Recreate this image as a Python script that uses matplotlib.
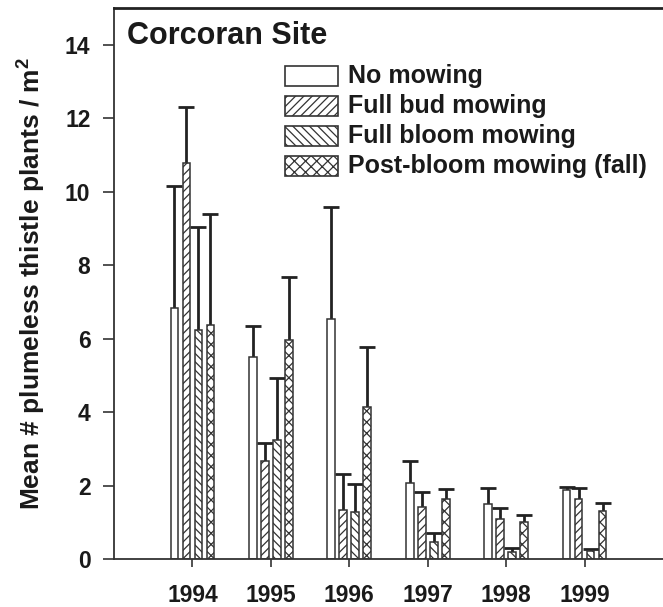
import matplotlib
matplotlib.use("Agg")
import matplotlib.pyplot as plt
from matplotlib.patches import Rectangle
import numpy as np

plt.rcParams['font.family'] = ['Liberation Sans', 'DejaVu Sans']
plt.rcParams['font.weight'] = 'bold'
plt.rcParams['hatch.linewidth'] = 0.9
plt.rcParams['mathtext.fontset'] = 'custom'
plt.rcParams['mathtext.bf'] = 'Liberation Sans:bold'

years = [1994, 1995, 1996, 1997, 1998, 1999]
series = ["No mowing", "Full bud mowing", "Full bloom mowing", "Post-bloom mowing (fall)"]
hatches = ["", "////", "\\\\\\\\", "xxx"]

no_mowing = [6.84, 5.51, 6.53, 2.06, 1.50, 1.89]
no_mowing_err = [3.32, 0.84, 3.05, 0.60, 0.42, 0.07]
full_bud = [10.78, 2.66, 1.34, 1.42, 1.08, 1.63]
full_bud_err = [1.52, 0.51, 0.98, 0.40, 0.30, 0.30]
full_bloom = [6.24, 3.24, 1.29, 0.47, 0.18, 0.23]
full_bloom_err = [2.80, 1.70, 0.76, 0.25, 0.11, 0.03]
post_bloom = [6.36, 5.97, 4.13, 1.63, 1.02, 1.32]
post_bloom_err = [3.02, 1.71, 1.65, 0.27, 0.17, 0.20]

means = [no_mowing, full_bud, full_bloom, post_bloom]
errs = [no_mowing_err, full_bud_err, full_bloom_err, post_bloom_err]

fig = plt.figure(figsize=(6.63, 6.07), dpi=100)
ax = fig.add_axes([114/663, 48/607, 549/663, 551/607])

x = np.array(years, dtype=float)
step = 0.153
width = 0.10
offsets = [-1.5*step, -0.5*step, 0.5*step, 1.5*step]

for i in range(4):
    pos = x + offsets[i]
    eb = ax.errorbar(pos, means[i], yerr=[np.zeros(len(years)), errs[i]], fmt='none',
                     ecolor='#222222', elinewidth=2.0, capsize=6.1, capthick=2.0, zorder=1)
    caps = eb[1]
    if len(caps) == 2:
        caps[0].remove()
    ax.bar(pos, means[i], width=width, facecolor='white', edgecolor='#333333',
           linewidth=1.1, hatch=hatches[i], zorder=2)

ax.set_xlim(1993, 2000)
ax.set_ylim(0, 15)
ax.set_yticks(range(0, 15, 2))
ax.set_xticks(years)
ax.set_xticklabels([str(y) for y in years])

for s in ['left', 'bottom']:
    ax.spines[s].set_linewidth(1.3)
    ax.spines[s].set_color('#333333')
ax.spines['top'].set_linewidth(2.0)
ax.spines['top'].set_color('#222222')
ax.spines['right'].set_visible(False)

ax.tick_params(axis='y', direction='out', length=8, width=1.2, pad=9,
               labelsize=16.5, colors='#333333', labelcolor='#1a1a1a')
ax.tick_params(axis='x', direction='out', length=6, width=1.2, pad=12,
               labelsize=16.5, colors='#333333', labelcolor='#1a1a1a')
for lab in ax.get_xticklabels() + ax.get_yticklabels():
    lab.set_fontweight('bold')

ax.set_ylabel("Mean # plumeless thistle plants / m$^\\mathbf{2}$", fontsize=19,
              fontweight='bold', color='#1a1a1a')
ax.yaxis.set_label_coords(-0.122, 0.5)

ax.text(0.024, 0.9347, "Corcoran Site", transform=ax.transAxes, fontsize=22,
        fontweight='bold', va='baseline', ha='left', color='#1a1a1a')

# legend
leg_x0 = (285 - 114) / 549
leg_w = 53 / 549
leg_h = 20 / 551
row_y = [(559 - 76) / 551, (559 - 106) / 551, (559 - 136) / 551, (559 - 166) / 551]
text_x = (348 - 114) / 549
for i in range(4):
    ax.add_patch(Rectangle((leg_x0, row_y[i] - leg_h / 2), leg_w, leg_h,
                           transform=ax.transAxes, facecolor='white',
                           edgecolor='#333333', linewidth=1.2, hatch=hatches[i],
                           clip_on=False))
    ax.text(text_x, row_y[i], series[i], transform=ax.transAxes, fontsize=18,
            fontweight='bold', va='center', ha='left', color='#1a1a1a')

fig.savefig("out.png", dpi=100)
